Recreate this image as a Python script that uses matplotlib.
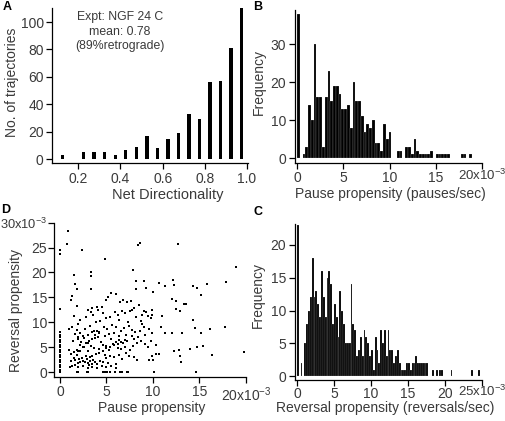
import matplotlib
matplotlib.use('Agg')
import matplotlib.pyplot as plt
import numpy as np

plt.rcParams['font.family'] = ['Liberation Sans', 'DejaVu Sans']
plt.rcParams['mathtext.fontset'] = 'custom'
plt.rcParams['mathtext.rm'] = 'Liberation Sans'
plt.rcParams['mathtext.it'] = 'Liberation Sans'

# ---------------- data ----------------
# Panel A: net directionality histogram
nd_centers = [0.125, 0.225, 0.275, 0.325, 0.375, 0.425, 0.475, 0.525, 0.575,
              0.625, 0.675, 0.725, 0.775, 0.825, 0.875, 0.925, 0.975]
nd_counts = [3, 5, 5, 5, 3, 7, 9, 17, 8, 15, 19, 33, 29, 56, 57, 81, 110]
a_xticks = [0.2, 0.4, 0.6, 0.8, 1.0]
a_xticklabels = ['0.2', '0.4', '0.6', '0.8', '1.0']
a_yticks = [0, 20, 40, 60, 80, 100]

# Panel B: pause propensity histogram (bin width 0.3e-3, units of 1e-3)
b_binwidth = 0.3
b_counts = [38, 0, 1, 3, 14, 10, 30, 16, 16, 3,
            16, 23, 15, 19, 19, 17, 13, 13, 14, 8,
            20, 15, 15, 11, 7, 9, 8, 10, 4, 4,
            2, 9, 5, 7, 0, 0, 2, 2, 0, 3,
            3, 1, 5, 2, 1, 1, 1, 1, 2, 0,
            1, 1, 1, 1, 1, 0, 0, 0, 0, 1,
            1, 0, 1]
b_xticks = [0, 5, 10, 15, 20]
b_xticklabels = ['0', '5', '10', '15', '20x10$^{-3}$']
b_yticks = [0, 10, 20, 30]

# Panel C: reversal propensity histogram (bin width 0.25e-3, units of 1e-3)
c_binwidth = 0.25
c_counts = [23, 0, 2, 0, 5, 8, 10, 12, 18, 12, 13, 11, 9, 16, 12, 9, 15, 16, 14, 8,
            11, 9, 6, 13, 10, 8, 5, 5, 5, 14, 8, 7, 3, 4, 6, 3, 7, 6, 5, 3,
            4, 1, 6, 4, 2, 7, 5, 7, 3, 7, 4, 4, 2, 3, 4, 2, 1, 1, 1, 2,
            2, 1, 2, 2, 3, 2, 2, 2, 2, 2, 2, 0, 0, 1, 0, 1, 0, 1, 1, 0,
            0, 0, 0, 1, 0, 0, 0, 0, 0, 0, 0, 0, 0, 0, 1, 0, 0, 0, 1]
c_xticks = [0, 5, 10, 15, 20, 25]
c_xticklabels = ['0', '5', '10', '15', '20', '25x10$^{-3}$']
c_yticks = [0, 5, 10, 15, 20]

# Panel D: scatter (pause propensity, reversal propensity), units of 1e-3
d_outliers = [(0.9, 28.3), (0.8, 25.8), (0, 24.5), (0, 23.8), (2.4, 24.6), (4.9, 22.8),
              (8.4, 25.6), (8.6, 26.0), (12.7, 25.7), (18.9, 21.2), (17.8, 18.1),
              (3.3, 20.1), (3.3, 19.3), (1.5, 19.5), (1.6, 17.6), (1.8, 16.6), (3.3, 16.7),
              (1.3, 15.3), (1.2, 14.5), (1.8, 13.3), (0, 12.6), (7.9, 20.5), (8.2, 18.2),
              (9.0, 18.2), (8.2, 16.7), (9.3, 16.8), (10.0, 16.1), (10.6, 17.8), (11.3, 17.2),
              (12.2, 18.5), (12.3, 17.5), (14.3, 17.3), (14.7, 16.8), (15.8, 17.6),
              (15.2, 15.4), (12.1, 14.7), (12.5, 14.2), (13.3, 13.7), (13.5, 13.6),
              (12.5, 12.7), (12.9, 12.3), (11.0, 11.3), (9.9, 12.5), (9.9, 11.5),
              (11.3, 7.8), (12.0, 7.8), (13.1, 7.8), (14.3, 10.4), (14.5, 8.8), (15.2, 7.8),
              (16.1, 8.7), (15.4, 5.2), (14.7, 5.0), (14.0, 4.6), (12.3, 4.3), (12.8, 4.4),
              (12.9, 3.3), (13.0, 2.1), (16.4, 3.4), (17.7, 9.0), (19.8, 4.1), (14.6, 0),
              (10.1, 0), (10.9, 9.1), (10.3, 5.4), (10.7, 3.6), (10.3, 3.6), (9.9, 3.3),
              (9.6, 2.5), (10.0, 2.5)]
d_cloud = [(4.0, 13.0), (4.5, 13.0), (5.0, 14.5), (5.2, 15.0), (5.5, 15.8), (6.0, 15.6),
           (6.8, 14.5), (7.2, 14.0), (7.6, 14.2), (8.0, 12.8), (8.5, 13.5), (3.0, 12.5),
           (3.5, 12.8), (6.5, 14.0), (7.8, 12.5),
           (1.5, 11.2), (2.2, 10.5), (2.8, 11.0), (3.3, 12.0), (3.6, 11.5), (4.1, 12.4),
           (4.6, 11.8), (5.0, 10.8), (5.4, 11.0), (5.9, 12.0), (6.2, 11.5), (6.7, 12.3),
           (7.0, 11.8), (7.5, 12.2), (8.2, 11.0), (8.8, 11.5), (9.3, 12.0), (9.5, 11.2),
           (9.8, 10.8), (8.7, 10.3), (4.3, 10.2), (3.9, 10.0), (2.0, 9.6), (6.4, 10.4),
           (7.3, 10.0), (9.0, 12.2),
           (1.0, 8.7), (1.3, 9.0), (1.8, 8.4), (2.2, 7.8), (2.5, 7.2), (3.0, 7.5), (3.4, 8.0),
           (3.7, 8.3), (4.0, 8.3), (4.2, 7.8), (2.7, 8.7), (3.2, 9.2), (4.7, 9.0), (5.1, 8.6),
           (5.6, 9.4), (6.0, 9.0), (6.6, 8.2), (6.9, 8.8), (7.4, 9.2), (7.8, 8.4), (8.1, 8.0),
           (8.6, 8.3), (9.0, 9.0), (9.6, 8.7), (5.3, 7.6), (5.8, 7.8), (6.3, 7.2), (7.1, 7.5),
           (7.7, 7.2), (8.4, 7.0), (9.2, 7.5), (4.8, 7.3), (1.6, 7.6), (2.0, 7.0), (9.9, 7.8),
           (8.8, 9.7),
           (1.0, 4.4), (1.2, 3.6), (1.5, 4.0), (1.8, 4.5), (2.2, 5.4), (2.5, 5.0), (2.8, 5.8),
           (3.1, 6.2), (3.5, 6.6), (3.8, 6.9), (4.1, 7.0), (1.4, 6.2), (1.9, 6.6), (2.3, 6.0),
           (2.6, 6.8), (3.3, 5.2), (3.7, 4.9), (4.2, 4.6), (4.6, 5.5), (5.0, 5.2), (5.3, 4.4),
           (5.7, 5.7), (6.0, 6.0), (6.4, 6.4), (6.8, 5.8), (7.2, 6.2), (5.5, 6.6), (6.2, 4.9),
           (6.6, 4.7), (7.0, 5.0), (7.5, 4.5), (7.9, 5.2), (8.3, 5.9), (8.7, 6.3), (9.1, 5.6),
           (9.5, 5.0), (4.4, 6.1), (3.0, 4.2), (8.0, 6.6), (9.8, 6.2), (2.0, 4.2),
           (1.1, 1.0), (1.3, 1.3), (1.6, 1.5), (1.9, 1.8), (2.2, 2.1), (2.5, 2.3), (2.9, 2.6),
           (3.2, 3.0), (3.5, 3.2), (3.9, 3.6), (4.2, 3.9), (4.6, 4.2),
           (2.4, 2.8), (2.7, 2.0), (3.0, 1.8), (3.2, 2.2), (3.4, 1.7), (3.6, 2.4), (3.8, 2.0),
           (4.0, 1.6), (4.3, 2.3), (4.6, 2.0), (3.1, 1.4), (2.8, 3.2), (5.0, 2.8), (5.4, 3.2),
           (5.8, 3.0), (6.3, 3.5), (6.7, 2.6), (7.1, 3.8), (7.4, 3.2), (8.0, 3.0), (8.3, 2.5),
           (5.2, 1.8), (6.0, 1.6), (4.8, 3.5), (2.1, 2.7), (1.6, 2.4),
           (5.0, 4.8), (5.4, 5.1), (5.8, 5.4), (6.2, 5.7), (6.6, 6.0), (7.0, 6.5),
           (1.2, 2.3), (1.5, 2.9), (1.8, 3.5), (2.2, 4.3), (2.6, 5.0), (3.0, 5.8), (3.4, 6.6),
           (3.8, 7.4), (4.2, 8.1),
           (2.0, 1.0), (2.5, 1.2), (3.0, 0.8), (3.5, 1.0), (4.0, 0.9), (4.5, 1.3), (5.0, 1.0),
           (5.5, 1.2), (6.0, 0.8)]
d_zero_pause_rev = [0, 0.5, 1, 1.5, 2, 2.5, 3, 3.5, 4, 4.5, 5, 5.5, 6, 6.5, 7, 7.5, 8]
d_zero_rev_pause = [1.8, 2.0, 2.9, 3.0, 4.6, 4.7, 4.9, 5.1, 5.4, 5.9, 6.5, 6.7, 7.2, 7.3]
d_xticks = [0, 5, 10, 15, 20]
d_xticklabels = ['0', '5', '10', '15', '20x10$^{-3}$']
d_yticks = [0, 5, 10, 15, 20, 25, 30]
d_yticklabels = ['0', '5', '10', '15', '20', '25', '30x10$^{-3}$']

# ---------------- figure ----------------
W, H = 506, 421
fig = plt.figure(figsize=(W / 100, H / 100), dpi=100)
TXT = '#3a3a3a'


def rect(l, t, r, b):
    return [l / W, 1 - b / H, (r - l) / W, (b - t) / H]


def style(ax):
    for s in ['top', 'right']:
        ax.spines[s].set_visible(False)
    for s in ['left', 'bottom']:
        ax.spines[s].set_linewidth(0.9)
        ax.spines[s].set_color('black')
    ax.tick_params(direction='out', length=4, width=0.9, colors='black',
                   labelcolor=TXT, labelsize=10, pad=2)


def ftext(x, y, s, **kw):
    kw.setdefault('color', TXT)
    kw.setdefault('fontsize', 10)
    fig.text(x / W, 1 - y / H, s, ha='center', va='center', **kw)


# Panel A
axA = fig.add_axes(rect(52, 8.3, 248, 163.3))
axA.bar(nd_centers, nd_counts, width=0.016, color='black')
axA.set_xlim(0.075, 1.005)
axA.set_ylim(-3, 110)
axA.set_xticks(a_xticks)
axA.set_xticklabels(a_xticklabels)
axA.set_yticks(a_yticks)
style(axA)
ftext(120, 17, 'Expt: NGF 24 C', fontsize=8.8)
ftext(120, 32, 'mean: 0.78', fontsize=8.8)
ftext(120, 46, '(89%retrograde)', fontsize=8.8)
ftext(168, 195, 'Net Directionality', fontsize=10.5)
ftext(12, 82, 'No. of trajectories', rotation=90)

# Panel B
axB = fig.add_axes(rect(294.7, 10, 482, 162.7))
b_edges = np.arange(len(b_counts)) * b_binwidth
b_counts_arr = np.array(b_counts)
mB = b_counts_arr > 0
axB.bar(b_edges[mB], b_counts_arr[mB], width=b_binwidth, align='edge', color='black',
        edgecolor='white', linewidth=0.12)
axB.set_xlim(-0.25, 20)
axB.set_ylim(-1.2, 39)
axB.set_xticks(b_xticks)
axB.set_xticklabels(b_xticklabels)
axB.set_yticks(b_yticks)
style(axB)
lab = axB.get_xticklabels()[-1]
lab.set_fontsize(9.5)
lab.set_y(lab.get_position()[1] + 0.02)
ftext(390, 194, 'Pause propensity (pauses/sec)')
ftext(259, 82, 'Frequency', rotation=90)

# Panel C
axC = fig.add_axes(rect(294.7, 224, 482, 380))
c_edges = np.arange(len(c_counts)) * c_binwidth
c_counts_arr = np.array(c_counts)
mC = c_counts_arr > 0
axC.bar(c_edges[mC], c_counts_arr[mC], width=c_binwidth, align='edge', color='black',
        edgecolor='white', linewidth=0.1)
axC.set_xlim(-0.3, 25)
axC.set_ylim(-0.6, 23.2)
axC.set_xticks(c_xticks)
axC.set_xticklabels(c_xticklabels)
axC.set_yticks(c_yticks)
style(axC)
axC.tick_params(axis='x', pad=1)
lab = axC.get_xticklabels()[-1]
lab.set_fontsize(9.5)
lab.set_y(lab.get_position()[1] + 0.02)
ftext(385, 408, 'Reversal propensity (reversals/sec)')
ftext(258, 295, 'Frequency', rotation=90)

# Panel D
axD = fig.add_axes(rect(54.3, 222.7, 246, 377))
pts = d_outliers + d_cloud + [(0, v) for v in d_zero_pause_rev] + [(v, 0) for v in d_zero_rev_pause]
dx = [p[0] for p in pts]
dy = [p[1] for p in pts]
axD.scatter(dx, dy, s=3.5, c='black', marker='s', linewidths=0)
axD.set_xlim(-0.6, 20)
axD.set_ylim(-1, 30)
axD.set_xticks(d_xticks)
axD.set_xticklabels(d_xticklabels)
axD.set_yticks(d_yticks)
axD.set_yticklabels(d_yticklabels)
style(axD)
axD.tick_params(axis='y', pad=1)
axD.get_yticklabels()[-1].set_fontsize(9.3)
ftext(152, 408, 'Pause propensity')
ftext(16, 310, 'Reversal propensity', rotation=90)

# Panel letters
for lbl, x, y in [('A', 7, 7), ('B', 258, 7), ('D', 6, 210), ('C', 258, 212)]:
    ftext(x, y, lbl, fontsize=9, fontweight='bold', color='black')

fig.savefig('out.png', dpi=100)
